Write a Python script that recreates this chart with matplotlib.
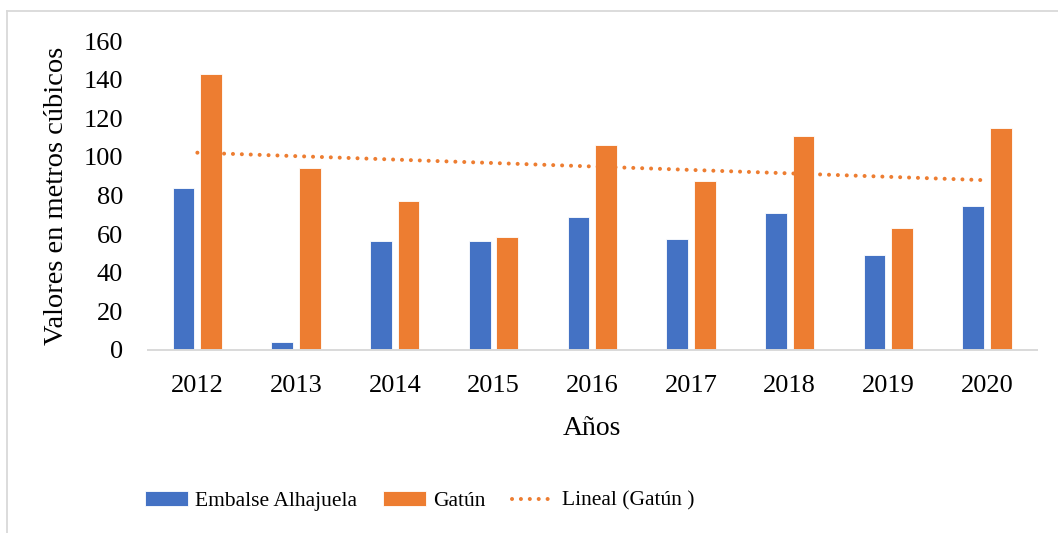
import numpy as np
import matplotlib.pyplot as plt
from matplotlib.lines import Line2D

# datos
anios = ['2012', '2013', '2014', '2015', '2016', '2017', '2018', '2019', '2020']
alhajuela = [84, 4, 56.5, 56.5, 68.7, 57.5, 71, 49, 74.4]
gatun = [143, 94, 77, 58.4, 106, 87.7, 111, 63.2, 115]

azul = '#4472C4'
naranja = '#ED7D31'
gris = '#D9D9D9'

plt.rcParams['font.family'] = ['Liberation Serif', 'DejaVu Serif']

fig = plt.figure(figsize=(10.58, 5.33), dpi=100)
ax = fig.add_axes([148 / 1058, 1 - 350 / 533, (1036.5 - 148) / 1058, (350 - 41) / 533])

x = np.arange(len(anios))
ancho = 0.22
b1 = ax.bar(x - 0.14, alhajuela, ancho, color=azul, edgecolor='white', linewidth=0.6,
            label='Embalse Alhajuela')
b2 = ax.bar(x + 0.14, gatun, ancho, color=naranja, edgecolor='white', linewidth=0.6,
            label='Gatún')

# tendencia lineal de Gatún
m, b = np.polyfit(x, gatun, 1)
tend, = ax.plot(x, m * x + b, color=naranja, linewidth=2.9, linestyle=(0, (0.01, 2.2)),
                dash_capstyle='round', label='Lineal (Gatún )')

ax.set_xlim(-0.5, len(anios) - 0.5)
ax.set_ylim(0, 160)
ax.set_yticks(range(0, 161, 20))
ax.set_xticks(x)
ax.set_xticklabels(anios)
ax.tick_params(axis='both', length=0, labelsize=19, colors='#000000')
ax.tick_params(axis='x', pad=18)
ax.tick_params(axis='y', pad=18)

for lado in ['top', 'right', 'left']:
    ax.spines[lado].set_visible(False)
ax.spines['bottom'].set_color(gris)
ax.spines['bottom'].set_linewidth(1.4)

ax.set_xlabel('Años', fontsize=20, labelpad=14)
ax.set_ylabel('Valores en metros cúbicos', fontsize=20.5, labelpad=10)

fig.legend(handles=[b1, b2, tend], loc='center left',
           bbox_to_anchor=(145 / 1058, 1 - 501 / 533), ncol=3,
           frameon=False, fontsize=15.5, handlelength=2.0, handleheight=0.68,
           handletextpad=0.3, columnspacing=1.25, borderpad=0, borderaxespad=0)

# borde del área del gráfico
fig.add_artist(Line2D([7 / 1058, 7 / 1058], [0, 1 - 11 / 533], color=gris, linewidth=1.3))
fig.add_artist(Line2D([7 / 1058, 1], [1 - 11 / 533, 1 - 11 / 533], color=gris, linewidth=1.3))

fig.savefig('out.png', dpi=100)
